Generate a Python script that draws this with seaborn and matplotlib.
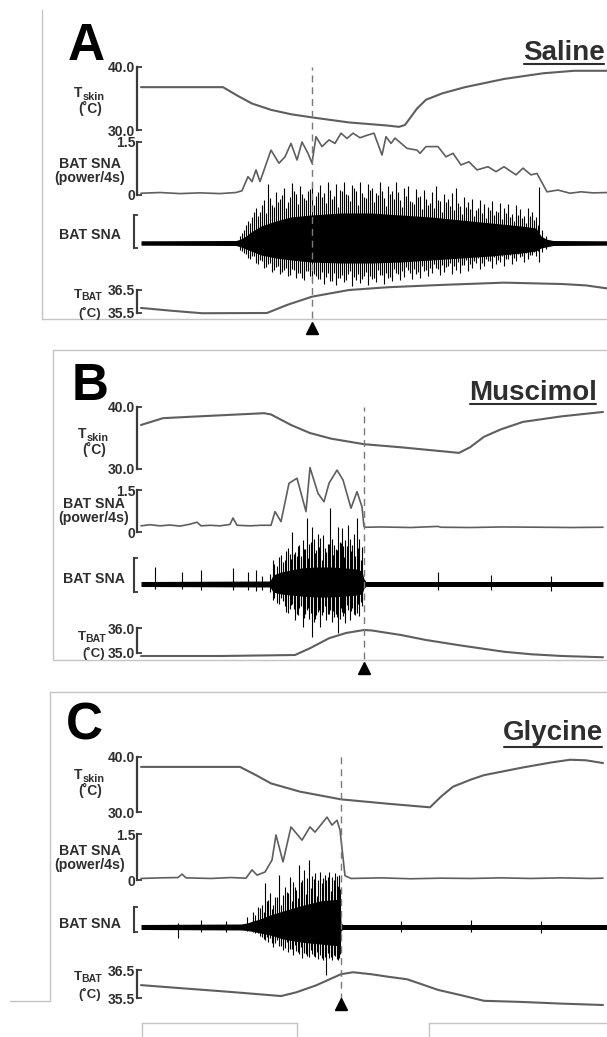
import matplotlib
matplotlib.use("Agg")
import numpy as np
import pandas as pd
import matplotlib.pyplot as plt
from matplotlib.lines import Line2D
import seaborn as sns

# ======================= DATA (time in s from trace start) =======================
# ---- Panel A : Saline ----
A_tskin_t = [0, 82, 97, 111, 130, 150, 171, 208, 247, 258, 264, 270, 276, 285, 301, 324, 363, 402, 433, 466]
A_tskin_v = [36.8, 36.8, 35.4, 34.2, 33.2, 32.5, 32.0, 31.2, 30.7, 30.5, 30.8, 32.1, 33.4, 34.8, 35.8, 36.8, 38.1, 39.0, 39.4, 39.4]
A_pow_t = [0, 19, 39, 59, 79, 95, 101, 107, 111, 115, 119, 130, 138, 144, 150, 156, 161, 167, 171, 175, 181, 188,
           194, 200, 206, 212, 219, 225, 233, 241, 245, 250, 254, 266, 276, 279, 285, 297, 305, 312, 320, 328, 336,
           347, 355, 363, 375, 382, 390, 396, 406, 417, 429, 440, 452, 466]
A_pow_v = [0.05, 0.07, 0.04, 0.06, 0.04, 0.07, 0.12, 0.52, 0.38, 0.71, 0.38, 1.27, 0.9, 1.08, 1.46, 0.99, 1.5, 1.18,
           0.9, 1.65, 1.37, 1.56, 1.46, 1.75, 1.6, 1.75, 1.62, 1.68, 1.75, 1.13, 1.65, 1.46, 1.61, 1.32, 1.27, 1.18,
           1.37, 1.37, 1.08, 1.18, 0.85, 0.94, 0.71, 0.8, 0.66, 0.8, 0.57, 0.76, 0.57, 0.61, 0.09, 0.14, 0.05, 0.09,
           0.06, 0.07]
A_core_t = [0, 95, 100, 105, 110, 120, 135, 150, 170, 200, 230, 260, 290, 320, 350, 380, 395, 400, 405, 412, 466]
A_core_hi = [2.2, 2.5, 4, 7, 11, 17, 22, 26, 28, 30, 30, 28, 26, 23, 20, 17, 15, 7, 4, 2.5, 2.2]
A_core_lo = [-2.2, -2.5, -4, -6, -8, -12, -15, -17, -19, -20, -20, -19, -17, -15, -13, -10, -8, -5, -4, -2.5, -2.2]
A_sp_t = [99, 103, 107, 111, 115, 119, 123, 127, 131, 135, 139, 143, 147, 151, 155, 159, 163, 167, 171, 175, 179,
          183, 187, 191, 195, 199, 203, 207, 211, 215, 219, 223, 227, 231, 235, 239, 243, 247, 251, 255, 259, 263,
          267, 271, 275, 279, 283, 287, 291, 295, 299, 303, 307, 311, 315, 319, 323, 327, 331, 335, 339, 343, 347,
          351, 355, 359, 363, 367, 371, 375, 379, 383, 387, 391, 395, 398, 401, 405]
A_sp_hi = [7, 13, 22, 26, 35, 31, 43, 59, 38, 51, 44, 55, 41, 60, 49, 57, 45, 52, 60, 47, 58, 50, 61, 44, 59, 53,
           61, 48, 58, 52, 61, 46, 59, 55, 50, 61, 45, 57, 52, 61, 43, 55, 57, 41, 54, 47, 53, 38, 51, 57, 42, 49,
           44, 50, 55, 37, 46, 41, 44, 33, 43, 39, 36, 42, 32, 40, 35, 39, 29, 38, 34, 27, 35, 31, 26, 56, 13, 7]
A_sp_lo = [-7, -10, -15, -13, -20, -17, -25, -21, -29, -24, -31, -27, -33, -26, -35, -30, -37, -28, -40, -33, -36,
           -41, -30, -38, -42, -35, -39, -31, -43, -37, -40, -33, -42, -36, -39, -32, -41, -35, -38, -30, -37, -34,
           -27, -36, -31, -35, -28, -33, -30, -25, -32, -29, -23, -31, -27, -30, -22, -28, -25, -20, -26, -23, -18,
           -25, -21, -19, -23, -16, -21, -18, -14, -19, -16, -12, -13, -19, -9, -6]
A_sp2_t = [101, 105, 109, 113, 117, 121, 125, 129, 133, 137, 141, 145, 149, 153, 157, 161, 165, 169, 173, 177, 181,
           185, 189, 193, 197, 201, 205, 209, 213, 217, 221, 225, 229, 233, 237, 241, 245, 249, 253, 257, 261, 265,
           269, 273, 277, 281, 285, 289, 293, 297, 301, 305, 309, 313, 317, 321, 325, 329, 333, 337, 341, 345, 349,
           353, 357, 361, 365, 369, 373, 377, 381, 385, 389, 393, 397]
A_sp2_hi = [10, 18, 20, 31, 27, 38, 30, 45, 36, 41, 48, 35, 46, 52, 39, 49, 43, 54, 38, 51, 46, 40, 53, 47, 36, 52,
            49, 42, 55, 38, 50, 45, 53, 41, 48, 52, 37, 49, 44, 51, 36, 47, 42, 39, 46, 34, 44, 40, 35, 43, 31, 41,
            37, 33, 40, 29, 36, 34, 27, 35, 30, 25, 33, 28, 31, 24, 30, 26, 22, 28, 25, 20, 27, 23, 18]
A_sp2_lo = [-8, -11, -16, -13, -21, -18, -24, -20, -27, -23, -29, -25, -32, -27, -30, -35, -28, -33, -31, -36, -29,
            -34, -38, -30, -35, -32, -37, -28, -34, -31, -36, -29, -33, -35, -27, -32, -30, -34, -26, -31, -28, -24,
            -30, -26, -29, -23, -27, -25, -21, -26, -22, -24, -20, -23, -19, -22, -17, -21, -18, -15, -20, -16, -18,
            -14, -17, -13, -16, -12, -15, -11, -13, -10, -12, -9, -8]
A_tbat_t = [0, 30, 61, 126, 146, 171, 208, 247, 300, 363, 421, 445, 466]
A_tbat_v = [35.72, 35.6, 35.49, 35.5, 35.85, 36.21, 36.5, 36.62, 36.72, 36.82, 36.76, 36.7, 36.57]

# ---- Panel B : Muscimol ----
B_tskin_t = [0, 22, 59, 123, 130, 150, 169, 190, 223, 260, 318, 329, 343, 360, 382, 421, 462]
B_tskin_v = [37.1, 38.2, 38.5, 39.0, 38.8, 37.1, 35.8, 34.9, 34.0, 33.5, 32.6, 33.5, 35.2, 36.4, 37.6, 38.5, 39.2]
B_pow_t = [0, 9, 19, 29, 39, 49, 56, 60, 69, 79, 89, 92, 96, 109, 120, 130, 134, 140, 148, 156, 165, 169, 177, 183,
           188, 196, 202, 210, 216, 221, 223, 225, 240, 270, 297, 300, 330, 360, 400, 430, 462]
B_pow_v = [0.22, 0.26, 0.22, 0.25, 0.21, 0.28, 0.35, 0.22, 0.24, 0.22, 0.27, 0.5, 0.24, 0.22, 0.24, 0.24, 0.73, 0.37,
           1.74, 1.92, 0.73, 2.3, 1.38, 1.08, 1.74, 2.21, 1.86, 0.85, 1.44, 0.9, 0.19, 0.17, 0.18, 0.16, 0.2, 0.17,
           0.16, 0.18, 0.17, 0.16, 0.17]
B_core_t = [0, 129, 132, 140, 150, 160, 175, 190, 205, 215, 221, 223, 225, 462]
B_core_hi = [2.5, 3, 9, 12, 14, 16, 17, 17, 16, 15, 13, 5, 2.5, 2.5]
B_core_lo = [-2.5, -3, -8, -10, -11, -12, -13, -13, -12, -11, -10, -4, -2.5, -2.5]
B_sp_t = [14, 41, 60, 92, 107, 115, 121, 129, 132, 136, 140, 144, 147, 149, 151, 154, 156, 158, 162, 164, 166, 168,
          171, 173, 175, 177, 179, 182, 185, 187, 189, 191, 193, 195, 197, 199, 201, 202, 204, 207, 209, 211, 213,
          216, 218, 221, 297, 350, 410]
B_sp_hi = [17, 12, 14, 16, 12, 14, 8, 10, 24, 18, 29, 24, 36, 30, 52, 32, 28, 39, 44, 35, 66, 40, 57, 45, 34, 50,
           46, 49, 32, 40, 76, 45, 39, 35, 57, 42, 56, 38, 44, 59, 45, 39, 50, 66, 45, 37, 12, 9, 8]
B_sp_lo = [-5, -5, -6, -6, -6, -7, -6, -8, -16, -19, -14, -22, -29, -25, -20, -36, -30, -24, -43, -30, -26, -35,
           -53, -38, -31, -28, -43, -28, -36, -30, -26, -38, -33, -30, -49, -35, -28, -32, -39, -26, -36, -24, -30,
           -29, -32, -22, -6, -6, -7]
B_sp2_t = [133, 138, 142, 145, 150, 153, 157, 160, 163, 167, 170, 174, 178, 181, 184, 188, 192, 196, 200, 203, 206,
           210, 214, 217, 220]
B_sp2_hi = [20, 27, 22, 33, 25, 30, 38, 28, 35, 26, 42, 31, 37, 24, 36, 40, 29, 34, 41, 27, 38, 33, 28, 36, 24]
B_sp2_lo = [-14, -20, -17, -28, -21, -25, -31, -22, -34, -24, -29, -35, -26, -31, -22, -30, -27, -33, -24, -29, -21,
            -27, -31, -20, -18]
B_tbat_t = [0, 80, 154, 169, 188, 205, 223, 231, 260, 285, 320, 363, 390, 421, 462]
B_tbat_v = [34.88, 34.88, 34.92, 35.19, 35.59, 35.8, 35.92, 35.9, 35.72, 35.52, 35.3, 35.05, 34.95, 34.88, 34.83]

# ---- Panel C : Glycine ----
C_tskin_t = [0, 99, 115, 130, 159, 200, 247, 289, 300, 312, 330, 343, 382, 410, 429, 445, 462]
C_tskin_v = [38.2, 38.2, 36.7, 35.2, 33.7, 32.3, 31.5, 30.85, 32.8, 34.6, 35.9, 36.7, 38.1, 39.0, 39.5, 39.4, 38.9]
C_pow_t = [0, 20, 37, 41, 45, 70, 90, 105, 111, 116, 124, 131, 135, 142, 150, 161, 169, 174, 186, 191, 196, 199,
           204, 210, 240, 270, 300, 330, 360, 390, 420, 450, 462]
C_pow_v = [0.05, 0.07, 0.08, 0.19, 0.07, 0.05, 0.08, 0.06, 0.33, 0.16, 0.26, 0.65, 1.47, 0.59, 1.73, 1.3, 1.73,
           1.56, 2.05, 1.79, 1.95, 1.63, 0.14, 0.05, 0.07, 0.04, 0.06, 0.05, 0.07, 0.05, 0.07, 0.05, 0.06]
C_core_t = [0, 100, 106, 112, 119, 129, 142, 159, 179, 199, 200, 202, 466]
C_core_hi = [2.5, 3, 4, 6, 8, 12, 16, 21, 26, 28, 4, 2.5, 2.5]
C_core_lo = [-2.5, -3, -3.5, -4.5, -6, -8, -12, -15, -17, -19, -3.5, -2.5, -2.5]
C_sp_t = [37, 60, 85, 106, 112, 117, 121, 124, 127, 129, 132, 134, 138, 142, 144, 147, 149, 152, 155, 158, 161, 163,
          166, 168, 171, 174, 177, 179, 182, 184, 185, 188, 191, 194, 196, 198, 260, 330, 400]
C_sp_hi = [4, 7, 6, 10, 15, 20, 22, 44, 27, 34, 22, 30, 52, 32, 40, 34, 50, 45, 37, 62, 47, 57, 49, 67, 51, 54, 47,
           55, 49, 52, 47, 55, 50, 54, 51, 52, 6, 7, 6]
C_sp_lo = [-11, -5, -5, -4, -5, -6, -10, -13, -15, -11, -20, -16, -19, -23, -21, -25, -22, -28, -24, -27, -31, -26,
           -29, -30, -27, -30, -32, -28, -33, -30, -48, -31, -33, -29, -32, -31, -5, -5, -6]
C_sp2_t = [114, 119, 123, 126, 131, 136, 140, 146, 151, 154, 157, 160, 165, 170, 173, 176, 181, 187, 190, 193, 197,
           199]
C_sp2_hi = [12, 19, 15, 26, 18, 30, 22, 35, 26, 40, 29, 45, 33, 39, 48, 31, 44, 50, 36, 47, 41, 38]
C_sp2_lo = [-6, -9, -12, -10, -16, -13, -19, -15, -22, -18, -25, -20, -27, -23, -29, -25, -31, -26, -30, -28, -33,
            -27]
C_tbat_t = [0, 40, 92, 140, 155, 175, 200, 212, 230, 247, 266, 280, 297, 320, 343, 380, 420, 462]
C_tbat_v = [35.96, 35.85, 35.71, 35.57, 35.7, 35.95, 36.35, 36.42, 36.35, 36.26, 36.17, 36.0, 35.79, 35.6, 35.4,
            35.36, 35.3, 35.25]

EVENT_T = [171, 223, 200]          # time of the arrowhead / dashed line
TITLES = ["Saline", "Muscimol", "Glycine"]
LETTERS = ["A", "B", "C"]
TSKIN_TICKS = [(30.0, 40.0), (30.0, 40.0), (30.0, 40.0)]
POW_TICKS = [(0.0, 1.5), (0.0, 1.5), (0.0, 1.5)]
TBAT_TICKS = [(35.5, 36.5), (35.0, 36.0), (35.5, 36.5)]
RAW_BRACKET = [(-5, 28), (-8, 26), (-5, 20)]

# ======================= LAYOUT (pixels) =======================
W, H, DPI = 607, 1037, 100
X0, X1 = 141, 607
T0, T1 = 0, 466
LAYOUT = [
    dict(tskin=(67, 130), pow=(142, 195), raw=(215, 248), tbat=(290, 313),
         letter=(68, 60), title=(605, 60, 63.5), dash=(67, 318), tri=328,
         lab_x=90, tsk_y=97, deg1_y=113, pow_y=(168, 182), raw_y=239, tb_y=298, deg2_y=317, tb_x=74),
    dict(tskin=(407, 469), pow=(490, 532), raw=(558, 592), tbat=(628, 653),
         letter=(72, 400), title=(597, 400, 404), dash=(407, 659), tri=668,
         lab_x=94, tsk_y=438, deg1_y=454, pow_y=(508, 522), raw_y=583, tb_y=640, deg2_y=657, tb_x=78),
    dict(tskin=(757, 812), pow=(834, 880), raw=(907, 932), tbat=(970, 998),
         letter=(66, 740), title=(603, 740, 747), dash=(755, 1000), tri=1004,
         lab_x=90, tsk_y=779, deg1_y=795, pow_y=(855, 869), raw_y=928, tb_y=980, deg2_y=998, tb_x=74),
]

TRACE = "#5e5e5e"
BAR = "#3a3a3a"
TXT = "#2e2e2e"
FRAME = "#c4c4c4"

sns.set_theme(style="white")
plt.rcParams['font.family'] = ['Liberation Sans', 'DejaVu Sans']
plt.rcParams['font.weight'] = 'bold'

fig = plt.figure(figsize=(W / DPI, H / DPI), dpi=DPI)
fig.patch.set_facecolor("white")


def band_axes(p_top, p_bot):
    ax = fig.add_axes([X0 / W, 1 - p_bot / H, (X1 - X0) / W, (p_bot - p_top) / H])
    ax.patch.set_alpha(0)
    return ax


def finish(ax, vlo, vhi, labels=None, outward=3.2, lw=1.6, tlen=3.5):
    ax.set_xlim(T0, T1)
    ax.set_ylim(vlo, vhi)
    ax.set_xlabel("")
    ax.set_ylabel("")
    ax.set_xticks([])
    for s in ["top", "right", "bottom"]:
        ax.spines[s].set_visible(False)
    sp = ax.spines["left"]
    sp.set_visible(True)
    sp.set_position(("outward", outward))
    sp.set_linewidth(lw)
    sp.set_color(BAR)
    ax.set_yticks([vlo, vhi])
    ax.set_yticklabels(labels if labels else ["", ""])
    ax.tick_params(axis="y", left=True, direction="in", length=tlen, width=1.3, color=BAR,
                   pad=1.0, labelsize=10, labelcolor=TXT)
    for ln in ax.lines:
        ln.set_clip_on(False)
    if ax.get_legend():
        ax.get_legend().remove()


def line(ax, t, v, lw=1.5):
    df = pd.DataFrame({"t": t, "v": v})
    sns.lineplot(data=df, x="t", y="v", ax=ax, color=TRACE, lw=lw, estimator=None, sort=False)


def ftxt(x, y, s, size, ha="left", va="baseline", color=TXT, **kw):
    return fig.text(x / W, 1 - y / H, s, fontsize=size, ha=ha, va=va, color=color,
                    fontweight="bold", **kw)


def fline(x1, y1, x2, y2, color=FRAME, lw=1.0):
    fig.add_artist(Line2D([x1 / W, x2 / W], [1 - y1 / H, 1 - y2 / H], transform=fig.transFigure,
                          color=color, lw=lw))


data = [
    (A_tskin_t, A_tskin_v, A_pow_t, A_pow_v, A_core_t, A_core_hi, A_core_lo,
     [(A_sp_t, A_sp_hi, A_sp_lo), (A_sp2_t, A_sp2_hi, A_sp2_lo)], A_tbat_t, A_tbat_v),
    (B_tskin_t, B_tskin_v, B_pow_t, B_pow_v, B_core_t, B_core_hi, B_core_lo,
     [(B_sp_t, B_sp_hi, B_sp_lo), (B_sp2_t, B_sp2_hi, B_sp2_lo)], B_tbat_t, B_tbat_v),
    (C_tskin_t, C_tskin_v, C_pow_t, C_pow_v, C_core_t, C_core_hi, C_core_lo,
     [(C_sp_t, C_sp_hi, C_sp_lo), (C_sp2_t, C_sp2_hi, C_sp2_lo)], C_tbat_t, C_tbat_v),
]

# ---- frames (light gray boxes) ----
fline(42, 10, 42, 319)
fline(42, 319, 607, 319)
fline(53, 350, 607, 350)
fline(53, 350, 53, 660)
fline(53, 660, 607, 660)
fline(50, 692, 607, 692)
fline(50, 692, 50, 1001)
fline(10, 1001, 50, 1001)
fline(142, 1037, 142, 1023)
fline(142, 1023, 297, 1023)
fline(297, 1023, 297, 1037)
fline(429, 1037, 429, 1023)
fline(429, 1023, 607, 1023)

title_objs = []
for i, (L, d) in enumerate(zip(LAYOUT, data)):
    (tsk_t, tsk_v, pw_t, pw_v, c_t, c_hi, c_lo, spikes, tb_t, tb_v) = d

    # T skin
    ax = band_axes(*L["tskin"])
    line(ax, tsk_t, tsk_v, lw=1.5)
    lo, hi = TSKIN_TICKS[i]
    finish(ax, lo, hi, [f"{lo:.1f}", f"{hi:.1f}"])

    # BAT SNA power
    ax = band_axes(*L["pow"])
    line(ax, pw_t, pw_v, lw=1.2)
    lo, hi = POW_TICKS[i]
    finish(ax, lo, hi, ["0", f"{hi:.1f}"])

    # raw BAT SNA
    ax = band_axes(*L["raw"])
    ax.fill_between(c_t, c_lo, c_hi, color="black", lw=0, clip_on=False)
    for (s_t, s_hi, s_lo) in spikes:
        ax.vlines(s_t, s_lo, s_hi, color="black", lw=0.8, clip_on=False)
    lo, hi = RAW_BRACKET[i]
    finish(ax, lo, hi, None, outward=5.4, lw=1.5, tlen=2.8)

    # T BAT
    ax = band_axes(*L["tbat"])
    line(ax, tb_t, tb_v, lw=1.5)
    lo, hi = TBAT_TICKS[i]
    finish(ax, lo, hi, [f"{lo:.1f}", f"{hi:.1f}"])

    # event: dashed line and arrowhead
    d_top, d_bot = L["dash"]
    tri = L["tri"]
    ev = fig.add_axes([X0 / W, 1 - tri / H, (X1 - X0) / W, (tri - d_top) / H])
    ev.set_xlim(T0, T1)
    ev.set_ylim(0, 1)
    ev.axis("off")
    ev.patch.set_alpha(0)
    ev.axvline(EVENT_T[i], ymin=(tri - d_bot) / (tri - d_top), ymax=1, color="#7a7a7a", lw=1.0,
               dashes=(5, 3.5))
    ev.plot([EVENT_T[i]], [0], marker="^", ms=8.5, color="black", clip_on=False, lw=0)

    # text labels
    lx = L["lab_x"]
    ftxt(L["letter"][0], L["letter"][1], LETTERS[i], 37, color="black")
    tt = ftxt(L["title"][0], L["title"][1], TITLES[i], 20, ha="right")
    title_objs.append((tt, L["title"][2]))
    ftxt(lx - 16, L["tsk_y"], "T", 10)
    ftxt(lx - 7.5, L["tsk_y"] + 3, "skin", 7.8)
    ftxt(lx, L["deg1_y"], "(˚C)", 10, ha="center")
    ftxt(lx, L["pow_y"][0], "BAT SNA", 10.2, ha="center")
    ftxt(lx, L["pow_y"][1], "(power/4s)", 10.2, ha="center")
    ftxt(lx, L["raw_y"], "BAT SNA", 10.2, ha="center")
    ftxt(L["tb_x"], L["tb_y"], "T", 9.5)
    ftxt(L["tb_x"] + 7.5, L["tb_y"] + 2, "BAT", 7.5)
    ftxt(lx, L["deg2_y"], "(˚C)", 9.5, ha="center")

# underline the titles
fig.canvas.draw()
r = fig.canvas.get_renderer()
for tt, uy in title_objs:
    bb = tt.get_window_extent(renderer=r)
    fline(bb.x0 + 1, uy, bb.x1 - 1, uy, color=TXT, lw=1.5)

fig.savefig("out.png", dpi=DPI, facecolor="white")
